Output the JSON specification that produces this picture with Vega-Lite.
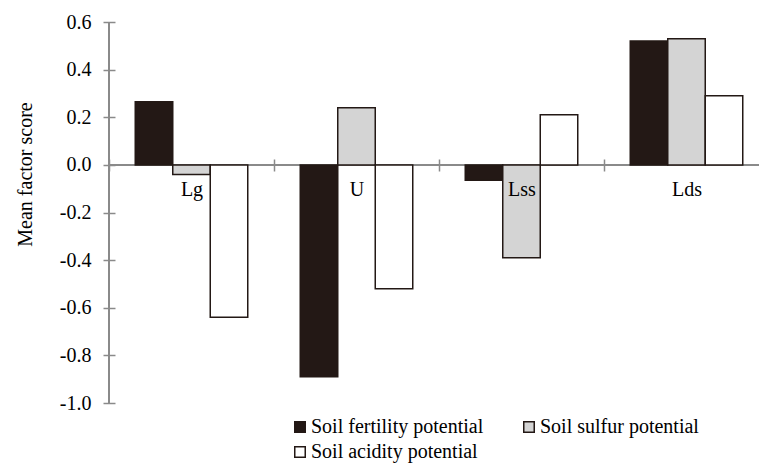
{
  "$schema": "https://vega.github.io/schema/vega-lite/v6.json",
  "width": 650,
  "height": 381,
  "autosize": {"type": "none"},
  "padding": {"left": 109, "top": 22, "right": 0, "bottom": 61},
  "config": {
    "view": {"stroke": null},
    "font": "Liberation Serif",
    "axis": {"labelFont": "Liberation Serif", "titleFont": "Liberation Serif"},
    "legend": {"labelFont": "Liberation Serif", "titleFont": "Liberation Serif"}
  },
  "data": {
    "values": [
      {"site": "Lg", "factor": "Soil fertility potential", "score": 0.265},
      {"site": "Lg", "factor": "Soil sulfur potential", "score": -0.04},
      {"site": "Lg", "factor": "Soil acidity potential", "score": -0.64},
      {"site": "U", "factor": "Soil fertility potential", "score": -0.89},
      {"site": "U", "factor": "Soil sulfur potential", "score": 0.24},
      {"site": "U", "factor": "Soil acidity potential", "score": -0.52},
      {"site": "Lss", "factor": "Soil fertility potential", "score": -0.065},
      {"site": "Lss", "factor": "Soil sulfur potential", "score": -0.39},
      {"site": "Lss", "factor": "Soil acidity potential", "score": 0.21},
      {"site": "Lds", "factor": "Soil fertility potential", "score": 0.52},
      {"site": "Lds", "factor": "Soil sulfur potential", "score": 0.53},
      {"site": "Lds", "factor": "Soil acidity potential", "score": 0.29}
    ]
  },
  "layer": [
    {
      "mark": {"type": "rule", "color": "#8a8a8a", "strokeWidth": 1.5},
      "encoding": {"y": {"datum": 0}}
    },
    {
      "mark": {"type": "bar", "stroke": "#231815", "strokeWidth": 1.5},
      "encoding": {
        "x": {
          "field": "site",
          "type": "nominal",
          "sort": ["Lg", "U", "Lss", "Lds"],
          "scale": {"range": [0, 660], "paddingInner": 0, "paddingOuter": 0},
          "axis": {
            "title": null,
            "orient": "bottom",
            "offset": -244,
            "zindex": 2,
            "domain": false,
            "tickBand": "extent",
            "tickSize": 12,
            "tickColor": "#8a8a8a",
            "tickWidth": 1.5,
            "labelPadding": 8,
            "labelFontSize": 20,
            "labelColor": "black",
            "labelAngle": 0,
            "labelAlign": "center",
            "labelFont": "Liberation Serif"
          }
        },
        "xOffset": {
          "field": "factor",
          "type": "nominal",
          "sort": ["Soil fertility potential", "Soil sulfur potential", "Soil acidity potential"],
          "scale": {"paddingInner": 0, "paddingOuter": 0.7}
        },
        "y": {
          "field": "score",
          "type": "quantitative",
          "scale": {"domain": [-1, 0.6], "nice": false},
          "axis": {
            "title": "Mean factor score",
            "values": [-1, -0.8, -0.6, -0.4, -0.2, 0, 0.2, 0.4, 0.6],
            "labelExpr": "replace(format(datum.value, '.1f'), '\u2212', '-')",
            "offset": -6,
            "domain": false,
            "grid": false,
            "tickSize": 12,
            "tickColor": "#8a8a8a",
            "tickWidth": 1.5,
            "labelPadding": 12,
            "labelFontSize": 20,
            "labelColor": "black",
            "labelFont": "Liberation Serif",
            "titleFont": "Liberation Serif",
            "titleFontSize": 20,
            "titleFontWeight": "normal",
            "titleColor": "black",
            "titleX": -84,
            "titleY": 152,
            "titleBaseline": "alphabetic"
          }
        },
        "fill": {
          "field": "factor",
          "type": "nominal",
          "scale": {
            "domain": ["Soil fertility potential", "Soil sulfur potential", "Soil acidity potential"],
            "range": ["#231815", "#d4d4d4", "#ffffff"]
          },
          "legend": {
            "title": null,
            "orient": "none",
            "direction": "horizontal",
            "legendX": 181,
            "legendY": 395,
            "columns": 2,
            "symbolType": "square",
            "symbolSize": 110,
            "symbolStrokeColor": "#231815",
            "symbolStrokeWidth": 1.5,
            "labelFontSize": 20,
            "labelFont": "Liberation Serif",
            "labelColor": "black",
            "labelOffset": 1,
            "labelLimit": 400,
            "columnPadding": 35,
            "rowPadding": 5,
            "padding": 0
          }
        }
      }
    },
    {
      "mark": {"type": "rule", "color": "#8a8a8a", "strokeWidth": 1.5},
      "encoding": {
        "x": {"datum": "Lg", "bandPosition": 0},
        "y": {"datum": -1},
        "y2": {"datum": 0.6}
      }
    }
  ]
}
